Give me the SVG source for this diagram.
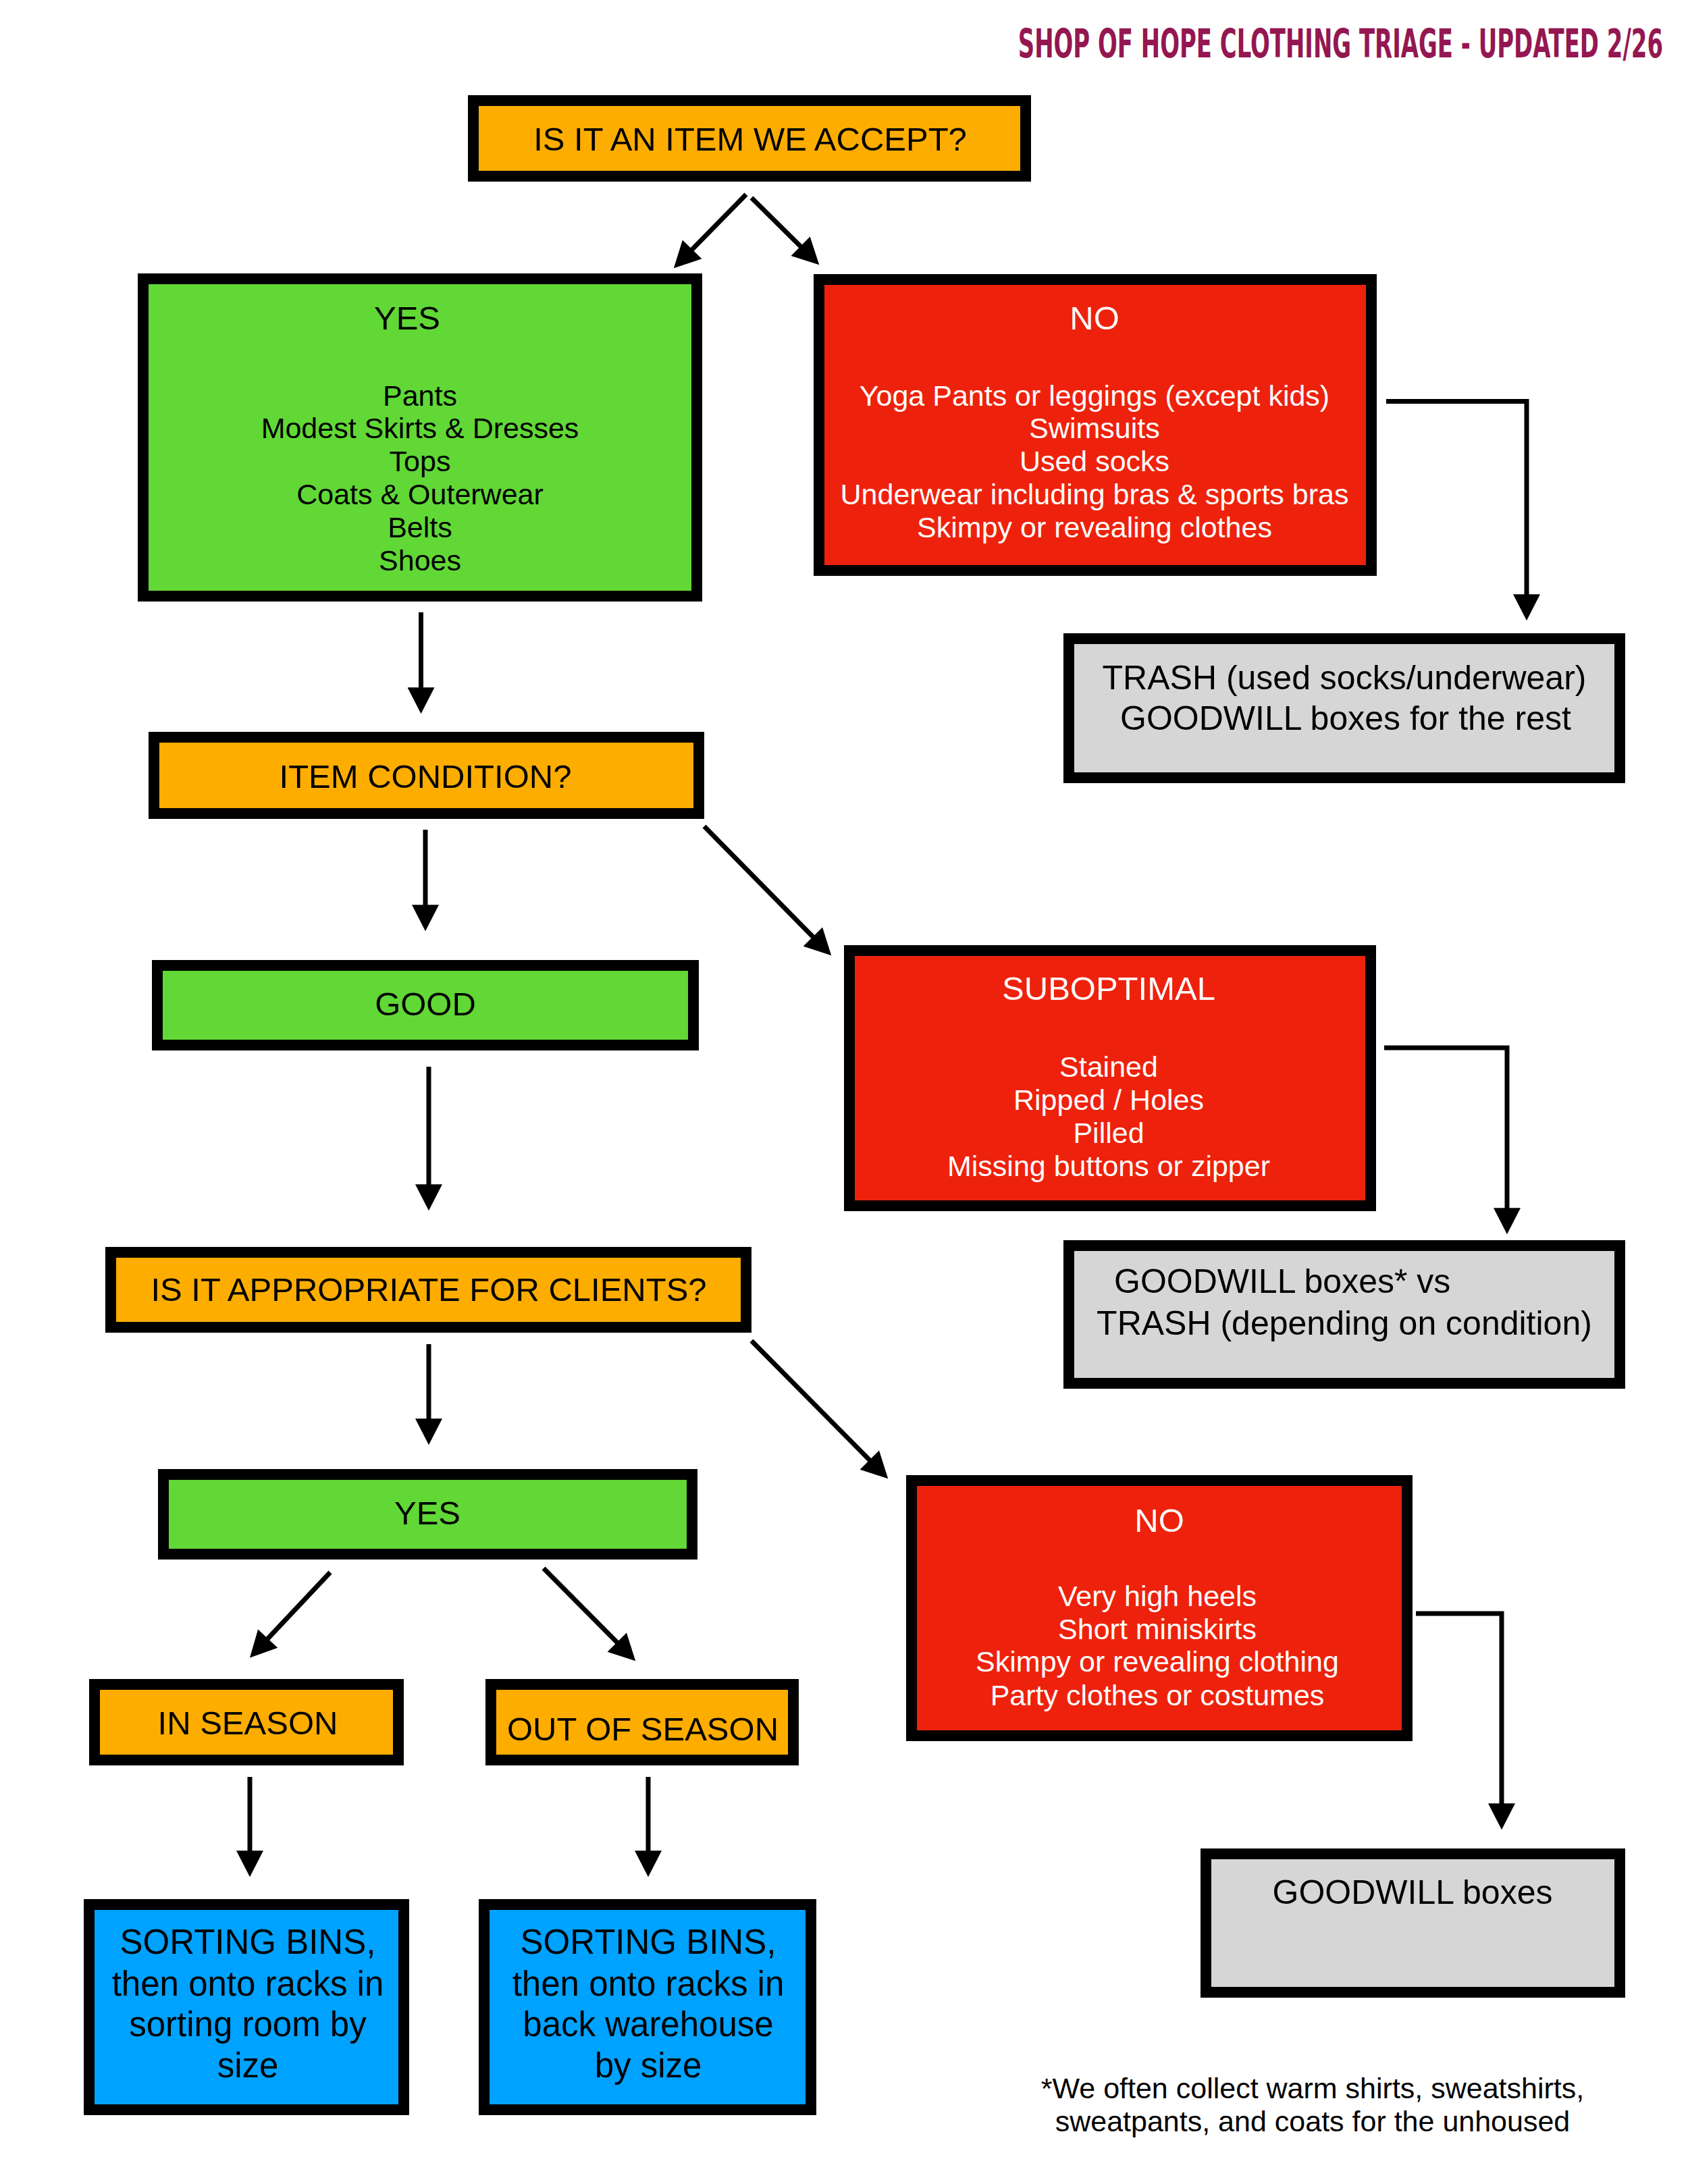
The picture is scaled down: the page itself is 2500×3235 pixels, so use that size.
<svg xmlns="http://www.w3.org/2000/svg" width="2500" height="3235" viewBox="0 0 2500 3235">
<style>
  .box { stroke: #000; stroke-width: 16; }
  .or { fill: #FDAD00; }
  .gr { fill: #61D836; }
  .rd { fill: #EE220C; }
  .gy { fill: #D6D6D6; }
  .bl { fill: #00A2FF; }
  text { font-family: "Liberation Sans", Arial, Helvetica, sans-serif; text-anchor: middle; fill: #000; }
  .q { font-size: 49px; }
  .li { font-size: 43px; }
  .w { fill: #fff; }
  .big { font-size: 50px; }
  .srt { font-size: 51px; }
  .foot { font-size: 43px; }
  .title { font-family: "Liberation Sans Narrow", "DejaVu Sans Condensed", sans-serif; font-weight: bold; font-size: 58px; fill: #941751; text-anchor: end; }
  .con { fill: none; stroke: #000; stroke-width: 7; marker-end: url(#ah); }
</style>
<defs>
  <marker id="ah" markerUnits="userSpaceOnUse" markerWidth="40" markerHeight="40" viewBox="0 0 38 39" refX="28" refY="19.5" orient="auto">
    <path d="M0,0 L38,19.5 L0,39 Z" fill="#000"/>
  </marker>
</defs>
<rect width="2500" height="3235" fill="#fff"/>
<text class="title" transform="translate(2463,85) scale(0.65,1)" x="0" y="0">SHOP OF HOPE CLOTHING TRIAGE - UPDATED 2/26</text>

<g id="connectors">
  <path class="con" d="M1105,288 L1005,390"/>
  <path class="con" d="M1113,293 L1206,385"/>
  <path class="con" d="M623.5,907 V1047"/>
  <path class="con" d="M630,1229 V1369"/>
  <path class="con" d="M1043,1224 L1224,1408"/>
  <path class="con" d="M2053,594.5 H2261 V909"/>
  <path class="con" d="M635,1580 V1783"/>
  <path class="con" d="M2050,1552 H2232 V1818"/>
  <path class="con" d="M635,1991 V2130"/>
  <path class="con" d="M1113,1986 L1308,2183"/>
  <path class="con" d="M489,2329 L377,2448"/>
  <path class="con" d="M805,2323 L934,2453"/>
  <path class="con" d="M370,2632 V2770"/>
  <path class="con" d="M960,2632 V2770"/>
  <path class="con" d="M2097,2390 H2224 V2700"/>
</g>

<g id="q-accept">
  <rect class="box or" x="701" y="149" width="818" height="112"/>
  <text class="q" x="1111" y="223">IS IT AN ITEM WE ACCEPT?</text>
</g>

<g id="yes-accept">
  <rect class="box gr" x="212" y="413" width="820" height="470"/>
  <text class="q" x="603" y="488">YES</text>
  <text class="li" x="622" y="601">Pants</text>
  <text class="li" x="622" y="649">Modest Skirts &amp; Dresses</text>
  <text class="li" x="622" y="698">Tops</text>
  <text class="li" x="622" y="747">Coats &amp; Outerwear</text>
  <text class="li" x="622" y="796">Belts</text>
  <text class="li" x="622" y="845">Shoes</text>
</g>

<g id="no-accept">
  <rect class="box rd" x="1213" y="414" width="818" height="431"/>
  <text class="q w" x="1621" y="488">NO</text>
  <text class="li w" x="1621" y="601">Yoga Pants or leggings (except kids)</text>
  <text class="li w" x="1621" y="649">Swimsuits</text>
  <text class="li w" x="1621" y="698">Used socks</text>
  <text class="li w" x="1621" y="747">Underwear including bras &amp; sports bras</text>
  <text class="li w" x="1621" y="796">Skimpy or revealing clothes</text>
</g>

<g id="trash">
  <rect class="box gy" x="1583" y="946" width="816" height="206"/>
  <text class="big" x="1991" y="1021">TRASH (used socks/underwear)</text>
  <text class="big" x="1993" y="1081">GOODWILL boxes for the rest</text>
</g>

<g id="q-condition">
  <rect class="box or" x="228" y="1092" width="807" height="113"/>
  <text class="q" x="630" y="1167">ITEM CONDITION?</text>
</g>

<g id="good">
  <rect class="box gr" x="233" y="1430" width="794" height="118"/>
  <text class="q" x="630" y="1504">GOOD</text>
</g>

<g id="suboptimal">
  <rect class="box rd" x="1258" y="1408" width="772" height="378"/>
  <text class="q w" x="1642" y="1481">SUBOPTIMAL</text>
  <text class="li w" x="1642" y="1595">Stained</text>
  <text class="li w" x="1642" y="1644">Ripped / Holes</text>
  <text class="li w" x="1642" y="1693">Pilled</text>
  <text class="li w" x="1642" y="1742">Missing buttons or zipper</text>
</g>

<g id="goodwill-vs-trash">
  <rect class="box gy" x="1583" y="1845" width="816" height="204"/>
  <text class="big" x="1650" y="1915" style="text-anchor:start">GOODWILL boxes* vs</text>
  <text class="big" x="1991" y="1977">TRASH (depending on condition)</text>
</g>

<g id="q-appropriate">
  <rect class="box or" x="164" y="1855" width="941" height="111"/>
  <text class="q" x="635" y="1927">IS IT APPROPRIATE FOR CLIENTS?</text>
</g>

<g id="yes-appropriate">
  <rect class="box gr" x="242" y="2184" width="783" height="118"/>
  <text class="q" x="633" y="2258">YES</text>
</g>

<g id="no-appropriate">
  <rect class="box rd" x="1350" y="2193" width="734" height="378"/>
  <text class="q w" x="1717" y="2269">NO</text>
  <text class="li w" x="1714" y="2379">Very high heels</text>
  <text class="li w" x="1714" y="2428">Short miniskirts</text>
  <text class="li w" x="1714" y="2476">Skimpy or revealing clothing</text>
  <text class="li w" x="1714" y="2526">Party clothes or costumes</text>
</g>

<g id="in-season">
  <rect class="box or" x="140" y="2495" width="450" height="112"/>
  <text class="q" x="367" y="2569">IN SEASON</text>
</g>

<g id="out-of-season">
  <rect class="box or" x="727" y="2495" width="448" height="112"/>
  <text class="q" x="952" y="2578">OUT OF SEASON</text>
</g>

<g id="sorting-room">
  <rect class="box bl" x="132" y="2821" width="466" height="304"/>
  <text class="srt" x="367" y="2894">SORTING BINS,</text>
  <text class="srt" x="367" y="2956">then onto racks in</text>
  <text class="srt" x="367" y="3016">sorting room by</text>
  <text class="srt" x="367" y="3077">size</text>
</g>

<g id="sorting-warehouse">
  <rect class="box bl" x="717" y="2821" width="484" height="304"/>
  <text class="srt" x="960" y="2894">SORTING BINS,</text>
  <text class="srt" x="960" y="2956">then onto racks in</text>
  <text class="srt" x="960" y="3016">back warehouse</text>
  <text class="srt" x="960" y="3077">by size</text>
</g>

<g id="goodwill">
  <rect class="box gy" x="1786" y="2746" width="613" height="205"/>
  <text class="big" x="2092" y="2820">GOODWILL boxes</text>
</g>

<g id="footnote">
  <text class="foot" x="1944" y="3108">*We often collect warm shirts, sweatshirts,</text>
  <text class="foot" x="1944" y="3157">sweatpants, and coats for the unhoused</text>
</g>
</svg>
